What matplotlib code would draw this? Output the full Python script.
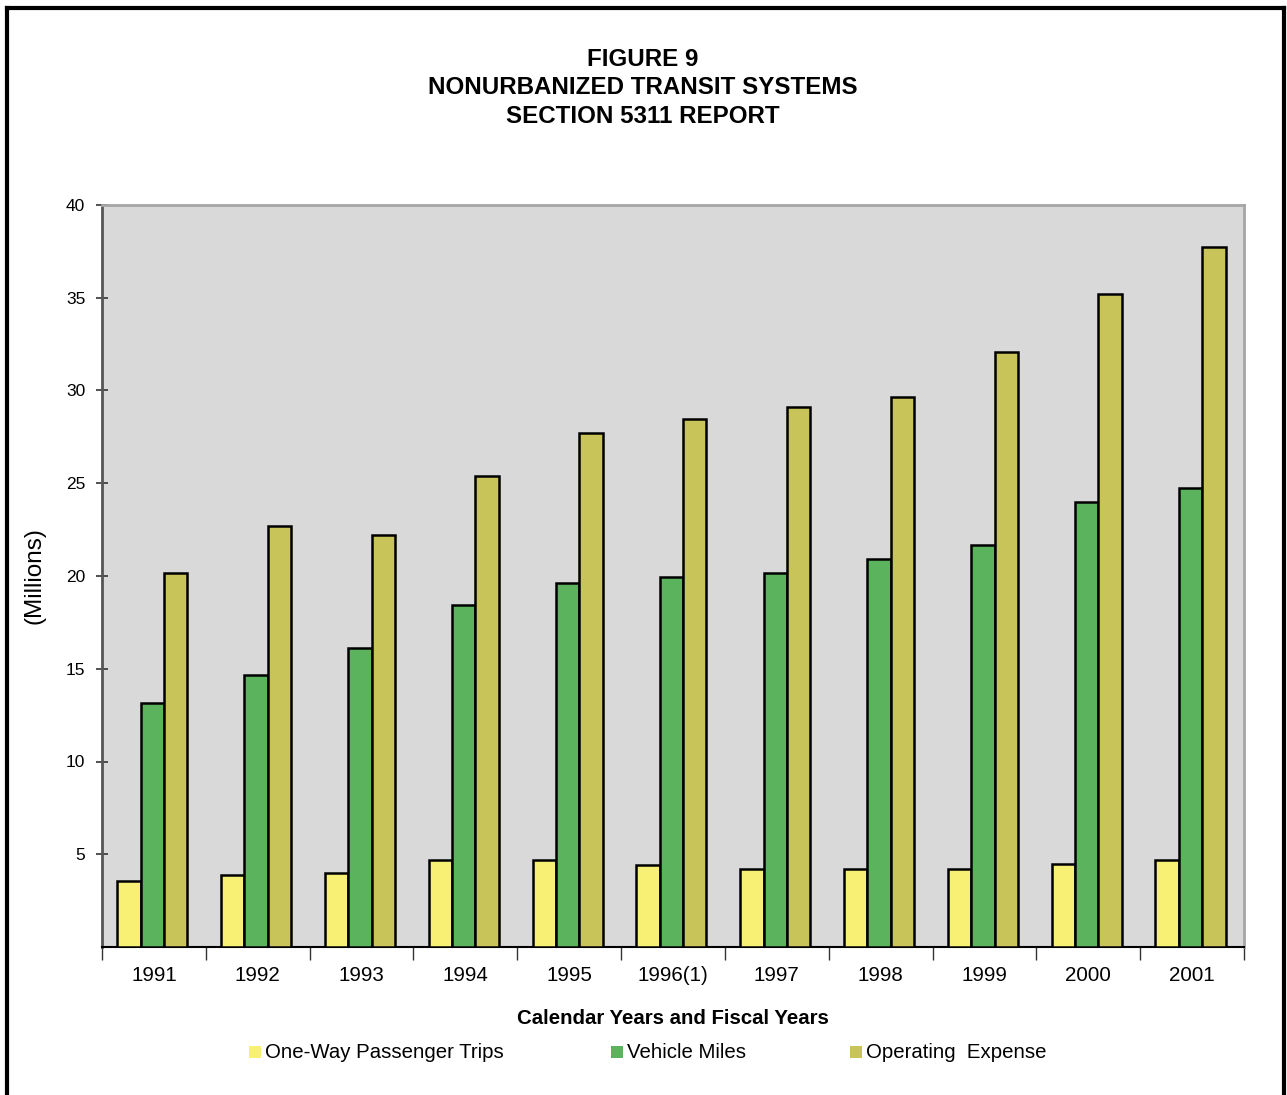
import matplotlib
matplotlib.use("Agg")
import matplotlib.pyplot as plt
import numpy as np
from matplotlib.patches import Rectangle
from matplotlib.lines import Line2D

plt.rcParams['font.family'] = ['Liberation Sans', 'DejaVu Sans']

years = ["1991", "1992", "1993", "1994", "1995", "1996(1)", "1997", "1998", "1999", "2000", "2001"]
trips = [3.56, 3.88, 3.99, 4.69, 4.69, 4.42, 4.21, 4.21, 4.21, 4.48, 4.69]
miles = [13.16, 14.67, 16.13, 18.45, 19.63, 19.96, 20.17, 20.93, 21.68, 24.0, 24.76]
expense = [20.17, 22.71, 22.22, 25.40, 27.72, 28.48, 29.13, 29.67, 32.09, 35.22, 37.76]
series_names = ["One-Way Passenger Trips", "Vehicle Miles", "Operating  Expense"]
colors = ["#F7F075", "#5BB35E", "#C8C45A"]
yticks = [5, 10, 15, 20, 25, 30, 35, 40]

W, H = 1287, 1095
fig = plt.figure(figsize=(W / 100, H / 100), dpi=100)
fig.patch.set_facecolor("white")

# outer frame
fig.add_artist(Line2D([7 / W, 7 / W], [0, 1 - 8 / H], color="black", lw=3, transform=fig.transFigure))
fig.add_artist(Line2D([7 / W, 1284 / W], [1 - 8 / H, 1 - 8 / H], color="black", lw=3, transform=fig.transFigure))
fig.add_artist(Line2D([1284 / W, 1284 / W], [0, 1 - 8 / H], color="black", lw=3, transform=fig.transFigure))

left, right, top, bottom = 102, 1244, 205, 947
ax = fig.add_axes([left / W, 1 - bottom / H, (right - left) / W, (bottom - top) / H])
ax.set_facecolor("#D9D9D9")

n = len(years)
x = np.arange(n)
bw = 0.225
for i, (vals, c) in enumerate(zip([trips, miles, expense], colors)):
    ax.bar(x + (i - 1) * bw - 0.015, vals, width=bw, color=c, edgecolor="black", linewidth=1.8, zorder=3)

ax.set_xlim(-0.5, n - 0.5)
ax.set_ylim(0, 40)
ax.set_yticks(yticks)
ax.set_yticklabels([str(v) for v in yticks], fontsize=12.5)
ax.set_xticks(x)
ax.set_xticklabels(years, fontsize=14.8)
ax.tick_params(axis="x", length=0, pad=14)
ax.set_xticks(np.arange(-0.5, n, 1.0), minor=True)
ax.tick_params(axis="x", which="minor", length=9, width=1, direction="out", color="#333333")
ax.tick_params(axis="y", length=8, width=1.2, direction="inout", color="#333333", pad=8)

ax.spines["left"].set_color("#555555")
ax.spines["left"].set_linewidth(2)
ax.spines["bottom"].set_color("black")
ax.spines["bottom"].set_linewidth(1.5)
ax.spines["top"].set_color("#A6A6A6")
ax.spines["top"].set_linewidth(2)
ax.spines["right"].set_color("#A6A6A6")
ax.spines["right"].set_linewidth(2)

ax.set_ylabel("(Millions)", fontsize=17.5, labelpad=15)
ax.set_xlabel("Calendar Years and Fiscal Years", fontsize=14.7, fontweight="bold", labelpad=17)

fig.text(643 / W, 1 - 88 / H, "FIGURE 9\nNONURBANIZED TRANSIT SYSTEMS\nSECTION 5311 REPORT",
         ha="center", va="center", fontsize=17.4, fontweight="bold", linespacing=1.3)

# legend
leg_x = [249, 611, 850]
leg_y = 1052
for lx, name, c in zip(leg_x, series_names, colors):
    fig.add_artist(Rectangle((lx / W, 1 - (leg_y + 6) / H), 12 / W, 12 / H, facecolor=c,
                             edgecolor="none", transform=fig.transFigure))
    fig.text((lx + 16) / W, 1 - leg_y / H, name, ha="left", va="center", fontsize=14.7)

fig.savefig("out.png", dpi=100)
